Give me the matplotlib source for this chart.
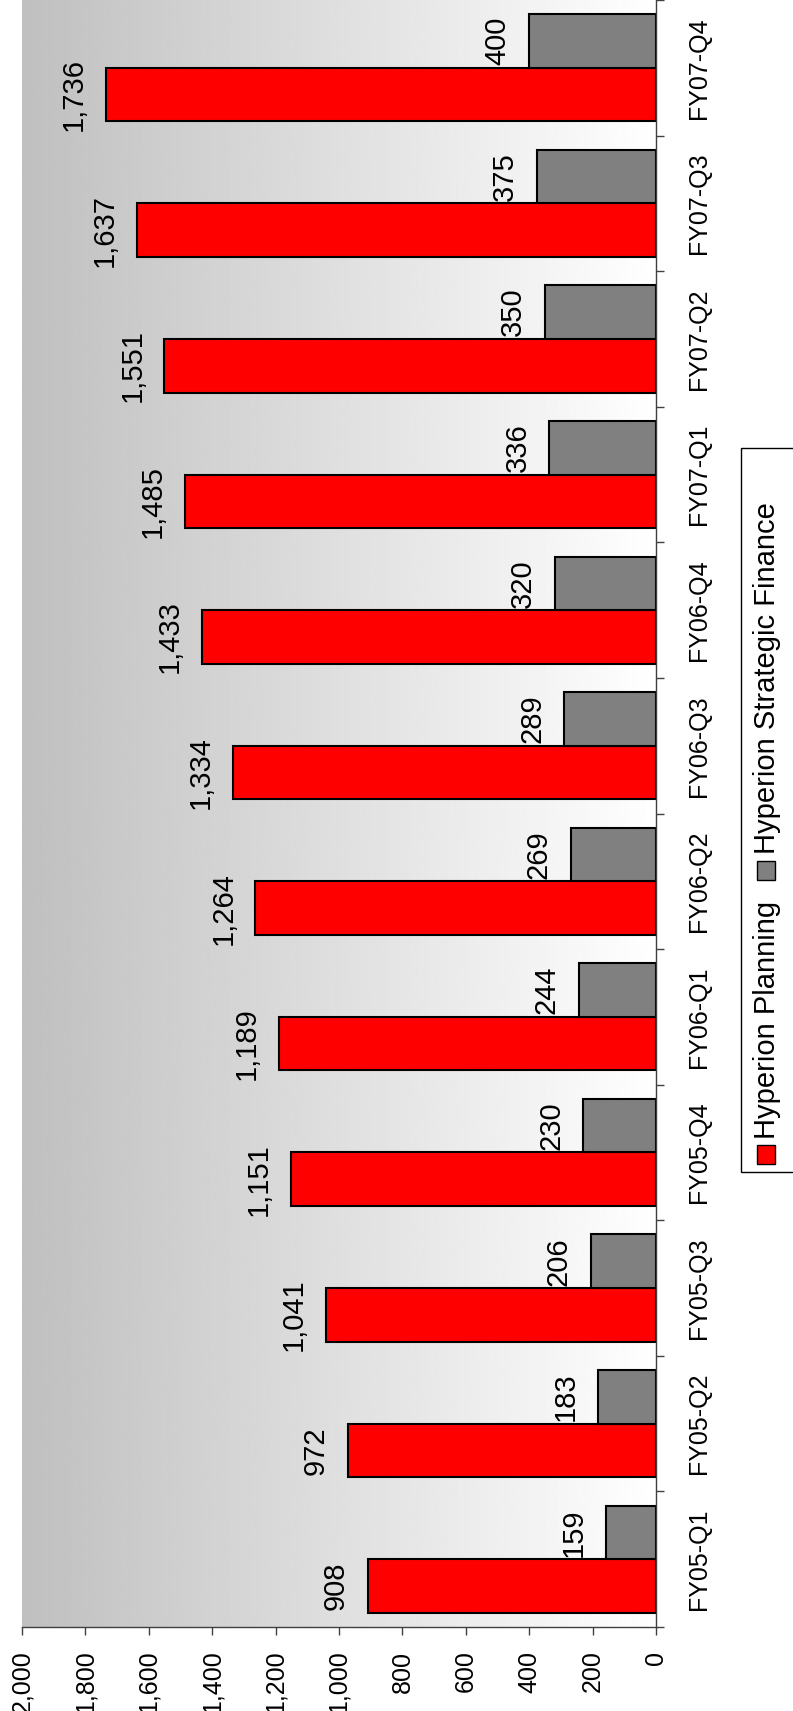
import numpy as np
import matplotlib
matplotlib.use('Agg')
from matplotlib import pyplot as plt
from matplotlib.patches import Rectangle
from matplotlib.ticker import FuncFormatter, FixedLocator

quarters = ['FY05-Q1', 'FY05-Q2', 'FY05-Q3', 'FY05-Q4',
            'FY06-Q1', 'FY06-Q2', 'FY06-Q3', 'FY06-Q4',
            'FY07-Q1', 'FY07-Q2', 'FY07-Q3', 'FY07-Q4']
planning = [908, 972, 1041, 1151, 1189, 1264, 1334, 1433, 1485, 1551, 1637, 1736]
strategic = [159, 183, 206, 230, 244, 269, 289, 320, 336, 350, 375, 400]
value_ticks = list(range(0, 2001, 200))
series_names = ['Hyperion Planning', 'Hyperion Strategic Finance']

RED = '#ff0000'
GRAY = '#808080'
W, H = 793, 1711

plt.rcParams['font.family'] = ['Liberation Sans', 'DejaVu Sans']

fig = plt.figure(figsize=(W / 100, H / 100), dpi=100)
ax = fig.add_axes([22 / W, 1 - 1627 / H, (656 - 22) / W, 1627 / H])

# gradient background, grey on the high-value side
grad = np.linspace(0.75, 1.0, 256).reshape(1, -1)
ax.imshow(grad, extent=[0, 1, 0, 1], transform=ax.transAxes, cmap='gray',
          vmin=0, vmax=1, aspect='auto', zorder=0)

y = np.arange(len(quarters))
hb = 0.395
bars1 = ax.barh(y - hb / 2, planning, height=hb, color=RED, edgecolor='black',
                linewidth=1.5, zorder=2)
bars2 = ax.barh(y + hb / 2, strategic, height=hb, color=GRAY, edgecolor='black',
                linewidth=1.5, zorder=2)

for bars, vals in [(bars1, planning), (bars2, strategic)]:
    for b, v in zip(bars, vals):
        ax.annotate(f'{v:,}', (v, b.get_y() + b.get_height() / 2),
                    xytext=(-13, 0), textcoords='offset points',
                    ha='right', va='center', rotation=90, fontsize=21, zorder=3)

ax.set_xlim(2000, 0)
ax.set_ylim(-0.5, len(quarters) - 0.5)

ax.set_xticks(value_ticks)
ax.xaxis.set_major_formatter(FuncFormatter(lambda v, p: f'{int(v):,}'))
ax.tick_params(axis='x', direction='out', length=6, width=1, color='#404040',
               labelsize=18, labelrotation=90, pad=11)

ax.yaxis.tick_right()
ax.set_yticks(y)
ax.set_yticklabels(quarters, rotation=90, va='center', fontsize=18)
ax.yaxis.set_minor_locator(FixedLocator(np.arange(-0.5, len(quarters), 1)))
ax.tick_params(axis='y', which='major', length=0, pad=22)
ax.tick_params(axis='y', which='minor', direction='out', length=6, width=1,
               color='#404040')

for s in ['left', 'top']:
    ax.spines[s].set_visible(False)
for s in ['right', 'bottom']:
    ax.spines[s].set_color('#404040')
    ax.spines[s].set_linewidth(1)


def fx(px):
    return px / W


def fy(py):
    return 1 - py / H


# legend, drawn by hand so it can sit rotated
fig.patches.append(Rectangle((fx(741), fy(1172)), fx(800) - fx(741), fy(448) - fy(1172),
                             transform=fig.transFigure, facecolor='white',
                             edgecolor='black', linewidth=1))
fig.patches.append(Rectangle((fx(757), fy(1164)), fx(775) - fx(757), fy(1145) - fy(1164),
                             transform=fig.transFigure, facecolor=RED,
                             edgecolor='black', linewidth=1))
fig.patches.append(Rectangle((fx(757), fy(880)), fx(775) - fx(757), fy(861) - fy(880),
                             transform=fig.transFigure, facecolor=GRAY,
                             edgecolor='black', linewidth=1))
fig.text(fx(767), fy(1139), series_names[0], rotation=90, ha='center', va='bottom',
         fontsize=21)
fig.text(fx(767), fy(854), series_names[1], rotation=90, ha='center', va='bottom',
         fontsize=21)

fig.savefig('out.png', dpi=100)
